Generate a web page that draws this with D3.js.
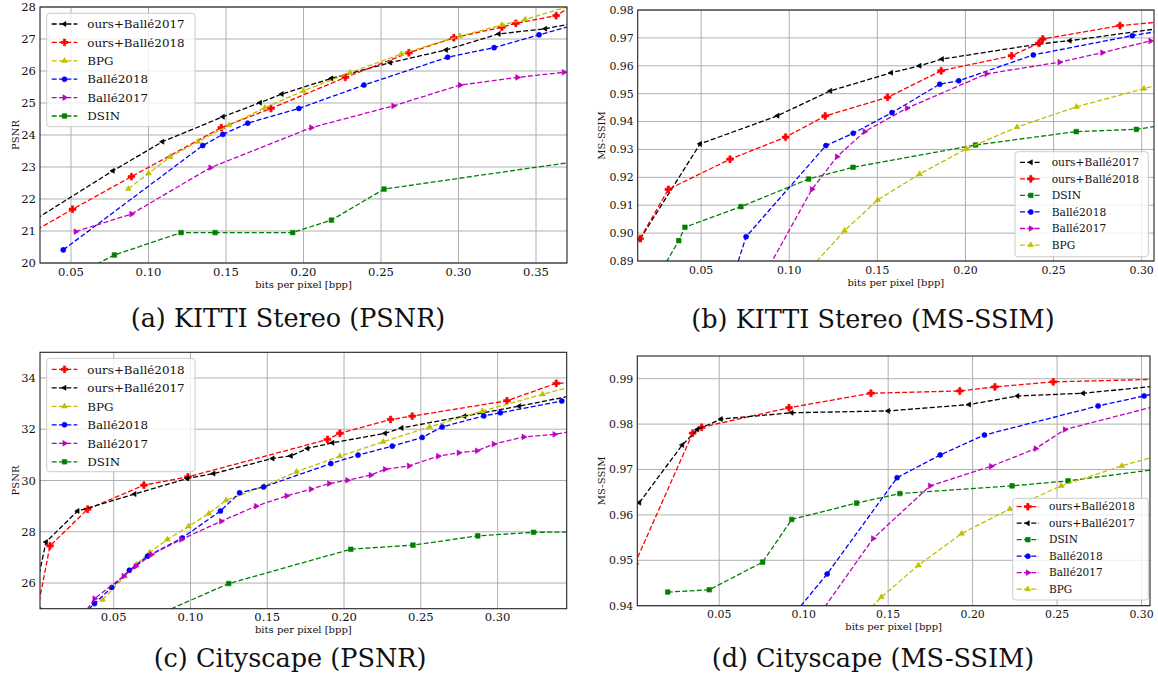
<!DOCTYPE html>
<html>
<head>
<meta charset="utf-8">
<script src="https://cdn.jsdelivr.net/npm/d3@7"></script>
<style>
  body { margin: 0; background: #fff; }
  svg { display: block; }
</style>
</head>
<body>
<div id="chart"></div>
<script>
// rate-distortion curves, [bpp, value]

// (a) KITTI Stereo, PSNR
var kittiPsnrOurs17 = [[0.020,21.15],[0.077,22.88],[0.109,23.79],[0.148,24.57],[0.172,25.01],[0.186,25.28],[0.218,25.77],[0.256,26.26],[0.292,26.66],[0.326,27.16],[0.356,27.32],[0.372,27.47]];
var kittiPsnrOurs18 = [[0.020,20.82],[0.051,21.68],[0.089,22.70],[0.147,24.23],[0.179,24.83],[0.227,25.80],[0.268,26.57],[0.297,27.04],[0.328,27.37],[0.337,27.49],[0.363,27.73],[0.372,28.00]];
var kittiPsnrBpg = [[0.087,22.32],[0.100,22.80],[0.114,23.32],[0.132,23.79],[0.152,24.31],[0.175,24.85],[0.200,25.38],[0.230,25.95],[0.263,26.53],[0.301,27.09],[0.328,27.44],[0.343,27.61],[0.372,28.03]];
var kittiPsnrBalle18 = [[0.045,20.41],[0.135,23.67],[0.148,24.02],[0.164,24.37],[0.197,24.83],[0.239,25.56],[0.293,26.43],[0.323,26.73],[0.352,27.13],[0.372,27.40]];
var kittiPsnrBalle17 = [[0.053,20.98],[0.089,21.53],[0.140,22.98],[0.205,24.23],[0.258,24.91],[0.301,25.56],[0.338,25.80],[0.368,25.96]];
var kittiPsnrDsin = [[0.050,19.55],[0.078,20.25],[0.121,20.95],[0.143,20.95],[0.193,20.95],[0.218,21.34],[0.252,22.31],[0.380,23.20]];

// (b) KITTI Stereo, MS-SSIM
var kittiSsimOurs17 = [[0.0153,0.8978],[0.0494,0.9320],[0.0934,0.9421],[0.1233,0.9510],[0.1578,0.9575],[0.1740,0.9600],[0.1867,0.9624],[0.2416,0.9678],[0.2592,0.9690],[0.315,0.9738]];
var kittiSsimOurs18 = [[0.0153,0.8980],[0.0314,0.9157],[0.0664,0.9265],[0.0979,0.9344],[0.1204,0.9420],[0.1558,0.9487],[0.1862,0.9582],[0.2262,0.9636],[0.2416,0.9681],[0.2439,0.9696],[0.2877,0.9744],[0.315,0.9760]];
var kittiSsimDsin = [[0.022,0.8806],[0.0373,0.8973],[0.0408,0.9021],[0.0726,0.9095],[0.1110,0.9194],[0.1362,0.9236],[0.2057,0.9316],[0.2629,0.9364],[0.2970,0.9372],[0.315,0.9390]];
var kittiSsimBalle18 = [[0.066,0.8800],[0.0755,0.8987],[0.1208,0.9314],[0.1363,0.9358],[0.1583,0.9432],[0.1854,0.9534],[0.1962,0.9546],[0.2385,0.9639],[0.2947,0.9708],[0.315,0.9730]];
var kittiSsimBalle17 = [[0.085,0.8840],[0.1129,0.9157],[0.1271,0.9274],[0.1428,0.9364],[0.1668,0.9448],[0.2119,0.9571],[0.2534,0.9613],[0.2777,0.9647],[0.3050,0.9689]];
var kittiSsimBpg = [[0.110,0.8860],[0.1314,0.9009],[0.1502,0.9119],[0.1740,0.9212],[0.2005,0.9302],[0.2293,0.9380],[0.2630,0.9453],[0.3013,0.9518],[0.315,0.9540]];

// (c) Cityscape, PSNR
var cityPsnrOurs18 = [[0.0005,25.00],[0.0085,27.45],[0.033,28.88],[0.0697,29.82],[0.0983,30.14],[0.1892,31.60],[0.1973,31.84],[0.2303,32.38],[0.2444,32.51],[0.3061,33.11],[0.3382,33.79],[0.352,33.82]];
var cityPsnrOurs17 = [[0.0005,26.08],[0.0059,27.60],[0.0265,28.81],[0.0636,29.47],[0.0979,30.08],[0.1150,30.27],[0.1535,30.86],[0.1654,30.96],[0.1762,31.25],[0.1925,31.47],[0.2267,31.84],[0.2375,32.05],[0.2784,32.51],[0.3141,32.90],[0.352,33.35]];
var cityPsnrBpg = [[0.0427,25.35],[0.0572,26.26],[0.0648,26.73],[0.0734,27.19],[0.0849,27.70],[0.0988,28.21],[0.1119,28.71],[0.1232,29.23],[0.1480,29.78],[0.1690,30.34],[0.1973,30.95],[0.2255,31.51],[0.2558,32.09],[0.2901,32.71],[0.3293,33.36],[0.352,33.72]];
var cityPsnrBalle18 = [[0.030,24.78],[0.0375,25.20],[0.0487,25.83],[0.0602,26.50],[0.0721,27.05],[0.0946,27.76],[0.1195,28.81],[0.1320,29.52],[0.1476,29.75],[0.1914,30.66],[0.2091,30.99],[0.2314,31.34],[0.2509,31.68],[0.2639,32.09],[0.2910,32.52],[0.3018,32.64],[0.3418,33.10]];
var cityPsnrBalle17 = [[0.030,24.75],[0.0375,25.39],[0.0565,26.27],[0.0643,26.65],[0.0745,27.11],[0.0940,27.70],[0.1200,28.41],[0.1427,29.00],[0.1626,29.40],[0.1784,29.66],[0.1903,29.88],[0.2022,30.01],[0.2174,30.21],[0.2267,30.44],[0.2423,30.57],[0.2613,30.95],[0.2747,31.08],[0.2866,31.16],[0.2975,31.42],[0.3170,31.70],[0.3371,31.80],[0.352,31.95]];
var cityPsnrDsin = [[0.070,24.54],[0.1249,25.98],[0.2044,27.32],[0.2449,27.48],[0.2871,27.84],[0.3234,27.98],[0.352,27.99]];

// (d) Cityscape, MS-SSIM
var citySsimOurs18 = [[0.0,0.9492],[0.0343,0.9780],[0.0396,0.9793],[0.0913,0.9836],[0.1398,0.9868],[0.1924,0.9873],[0.2132,0.9882],[0.2477,0.9893],[0.312,0.9899]];
var citySsimOurs17 = [[0.0027,0.9627],[0.0281,0.9754],[0.0370,0.9788],[0.0510,0.9811],[0.0929,0.9825],[0.1500,0.9829],[0.1979,0.9843],[0.2266,0.9862],[0.2654,0.9868],[0.312,0.9885]];
var citySsimDsin = [[0.0195,0.9430],[0.0441,0.9435],[0.0757,0.9496],[0.0929,0.9590],[0.1313,0.9626],[0.1569,0.9647],[0.2234,0.9664],[0.2565,0.9675],[0.312,0.9702]];
var citySsimBalle18 = [[0.090,0.9362],[0.1139,0.9470],[0.1553,0.9682],[0.1808,0.9732],[0.2070,0.9776],[0.2743,0.9840],[0.3015,0.9862],[0.312,0.9870]];
var citySsimBalle17 = [[0.105,0.9358],[0.1411,0.9548],[0.1748,0.9664],[0.2109,0.9707],[0.2373,0.9746],[0.2546,0.9788],[0.312,0.9843]];
var citySsimBpg = [[0.125,0.9340],[0.1460,0.9419],[0.1679,0.9489],[0.1935,0.9559],[0.2220,0.9613],[0.2524,0.9664],[0.2883,0.9708],[0.312,0.9733]];

// axis ticks
var psnrKittiTicks = [20, 21, 22, 23, 24, 25, 26, 27, 28];
var psnrCityTicks = [26, 28, 30, 32, 34];
var ssimKittiTicks = [0.89, 0.90, 0.91, 0.92, 0.93, 0.94, 0.95, 0.96, 0.97, 0.98];
var ssimCityTicks = [0.94, 0.95, 0.96, 0.97, 0.98, 0.99];
var bppTicksKitti = [0.05, 0.10, 0.15, 0.20, 0.25, 0.30, 0.35];
var bppTicks = [0.05, 0.10, 0.15, 0.20, 0.25, 0.30];

var captions = ['(a) KITTI Stereo (PSNR)', '(b) KITTI Stereo (MS-SSIM)', '(c) Cityscape (PSNR)', '(d) Cityscape (MS-SSIM)'];

// series look, matplotlib single-letter colours
var styles = {
  ours17:  { label: 'ours+Ballé2017', color: '#000000', marker: 'left' },
  ours18:  { label: 'ours+Ballé2018', color: '#ff0000', marker: 'plus' },
  bpg:     { label: 'BPG',            color: '#bfbf00', marker: 'up' },
  balle18: { label: 'Ballé2018',      color: '#0000ff', marker: 'circle' },
  balle17: { label: 'Ballé2017',      color: '#bf00bf', marker: 'right' },
  dsin:    { label: 'DSIN',           color: '#008000', marker: 'square' }
};

var panels = [
  {
    box: { left: 40, right: 567, top: 7, bottom: 263 },
    xDomain: [0.03, 0.37], yDomain: [20, 28],
    xTicks: bppTicksKitti, yTicks: psnrKittiTicks, yFmt: d3.format('d'),
    ylabel: 'PSNR', ylabelOff: 25, font: 11.6,
    series: [['ours17', kittiPsnrOurs17], ['ours18', kittiPsnrOurs18], ['bpg', kittiPsnrBpg],
             ['balle18', kittiPsnrBalle18], ['balle17', kittiPsnrBalle17], ['dsin', kittiPsnrDsin]],
    legend: { x: 46.7, y: 13.3, w: 148.3, h: 113.4, row0: 24, step: 18.4, l0: 51.7, l1: 77.3, tx: 87.3, font: 11.9 },
    caption: { x: 288, y: 327 }
  },
  {
    box: { left: 637.7, right: 1154, top: 10, bottom: 261 },
    xDomain: [0.014, 0.307], yDomain: [0.89, 0.98],
    xTicks: bppTicks, yTicks: ssimKittiTicks, yFmt: d3.format('.2f'),
    ylabel: 'MS-SSIM', ylabelOff: 36, font: 10.9,
    series: [['ours17', kittiSsimOurs17], ['ours18', kittiSsimOurs18], ['dsin', kittiSsimDsin],
             ['balle18', kittiSsimBalle18], ['balle17', kittiSsimBalle17], ['bpg', kittiSsimBpg]],
    legend: { x: 1015, y: 151.7, w: 133.3, h: 105, row0: 162.3, step: 16.55, l0: 1020, l1: 1041.7, tx: 1051.7, font: 10.7 },
    caption: { x: 873, y: 328 }
  },
  {
    box: { left: 40, right: 566.7, top: 352.3, bottom: 608.7 },
    xDomain: [0.002, 0.345], yDomain: [25, 35],
    xTicks: bppTicks, yTicks: psnrCityTicks, yFmt: d3.format('d'),
    ylabel: 'PSNR', ylabelOff: 25, font: 11.6,
    series: [['ours18', cityPsnrOurs18], ['ours17', cityPsnrOurs17], ['bpg', cityPsnrBpg],
             ['balle18', cityPsnrBalle18], ['balle17', cityPsnrBalle17], ['dsin', cityPsnrDsin]],
    legend: { x: 46.7, y: 358.3, w: 148.3, h: 113.4, row0: 369.3, step: 18.5, l0: 51.7, l1: 77.3, tx: 87.3, font: 11.9 },
    caption: { x: 290, y: 667 }
  },
  {
    box: { left: 637.3, right: 1150, top: 356, bottom: 605.7 },
    xDomain: [0.0015, 0.305], yDomain: [0.94, 0.995],
    xTicks: bppTicks, yTicks: ssimCityTicks, yFmt: d3.format('.2f'),
    ylabel: 'MS-SSIM', ylabelOff: 36, font: 10.9,
    series: [['ours18', citySsimOurs18], ['ours17', citySsimOurs17], ['dsin', citySsimDsin],
             ['balle18', citySsimBalle18], ['balle17', citySsimBalle17], ['bpg', citySsimBpg]],
    legend: { x: 1012.7, y: 498.3, w: 135.6, h: 101.7, row0: 506.7, step: 16.5, l0: 1016.7, l1: 1039, tx: 1049, font: 10.5 },
    caption: { x: 873, y: 667 }
  }
];

// pick an installed serif face if there is one (canvas width test)
function hasFont(name) {
  var ctx = document.createElement('canvas').getContext('2d');
  var probe = 'mmmmmmmmmmlli0123456789WQ';
  return ['monospace', 'sans-serif'].some(function (base) {
    ctx.font = '40px ' + base;
    var w0 = ctx.measureText(probe).width;
    ctx.font = '40px "' + name + '", ' + base;
    return ctx.measureText(probe).width !== w0;
  });
}
var serifFace = ['DejaVu Serif', 'Liberation Serif', 'Noto Serif', 'Times New Roman', 'Tinos', 'FreeSerif']
  .filter(hasFont)[0];

var tickFont = serifFace ? '"' + serifFace + '", serif' : '"DejaVu Sans", sans-serif';
var capFont, capSize, capSpacing;
if (serifFace === 'DejaVu Serif') { capFont = tickFont; capSize = 25.5; capSpacing = 0; }
else if (serifFace) { capFont = tickFont; capSize = 27; capSpacing = 1.5; }
else { capFont = '"Liberation Sans", sans-serif'; capSize = 27; capSpacing = 1.5; }

var width = 1158, height = 688;
var dash = '5,2.3';

var svg = d3.select('#chart').append('svg')
  .attr('width', width)
  .attr('height', height)
  .attr('viewBox', [0, 0, width, height]);

var defs = svg.append('defs');

function symbolFor(kind) {
  if (kind === 'circle') return d3.symbol(d3.symbolCircle, 20)();
  if (kind === 'square') return d3.symbol(d3.symbolSquare, 21)();
  if (kind === 'plus') return d3.symbol(d3.symbolCross, 26)();
  if (kind === 'left') return d3.symbol(d3.symbolTriangle, 11)();
  return d3.symbol(d3.symbolTriangle, 14)();
}
function rotationFor(kind) {
  if (kind === 'left') return -90;
  if (kind === 'right') return 90;
  return 0;
}

function drawMarker(g, kind, color, x, y) {
  g.append('path')
    .attr('d', symbolFor(kind))
    .attr('transform', 'translate(' + x + ',' + y + ') rotate(' + rotationFor(kind) + ')')
    .attr('fill', color)
    .attr('stroke', color)
    .attr('stroke-width', 0.6);
}

panels.forEach(function (p, i) {
  var b = p.box;
  var x = d3.scaleLinear().domain(p.xDomain).range([b.left, b.right]);
  var y = d3.scaleLinear().domain(p.yDomain).range([b.bottom, b.top]);
  var g = svg.append('g');

  var clipId = 'clip' + i;
  defs.append('clipPath').attr('id', clipId)
    .append('rect')
    .attr('x', b.left).attr('y', b.top)
    .attr('width', b.right - b.left).attr('height', b.bottom - b.top);

  // grid
  g.append('g').selectAll('line').data(p.xTicks).join('line')
    .attr('x1', function (d) { return x(d); }).attr('x2', function (d) { return x(d); })
    .attr('y1', b.top).attr('y2', b.bottom)
    .attr('stroke', '#b0b0b0').attr('stroke-width', 1);
  g.append('g').selectAll('line').data(p.yTicks).join('line')
    .attr('y1', function (d) { return y(d); }).attr('y2', function (d) { return y(d); })
    .attr('x1', b.left).attr('x2', b.right)
    .attr('stroke', '#b0b0b0').attr('stroke-width', 1);

  // tick labels
  g.append('g').selectAll('text').data(p.xTicks).join('text')
    .attr('x', function (d) { return x(d); })
    .attr('y', b.bottom + 12.6)
    .attr('text-anchor', 'middle')
    .attr('font-family', tickFont).attr('font-size', p.font).attr('fill', '#111')
    .text(d3.format('.2f'));
  g.append('g').selectAll('text').data(p.yTicks).join('text')
    .attr('x', b.left - 4)
    .attr('y', function (d) { return y(d); })
    .attr('dy', '0.36em')
    .attr('text-anchor', 'end')
    .attr('font-family', tickFont).attr('font-size', p.font).attr('fill', '#111')
    .text(p.yFmt);

  // axis labels
  g.append('text')
    .attr('x', (b.left + b.right) / 2).attr('y', b.bottom + 24.5)
    .attr('text-anchor', 'middle')
    .attr('font-family', tickFont).attr('font-size', 10).attr('fill', '#111')
    .text('bits per pixel [bpp]');
  g.append('text')
    .attr('transform', 'translate(' + (b.left - p.ylabelOff) + ',' + ((b.top + b.bottom) / 2) + ') rotate(-90)')
    .attr('text-anchor', 'middle').attr('dy', '0.35em')
    .attr('font-family', tickFont).attr('font-size', 10).attr('fill', '#111')
    .text(p.ylabel);

  // curves
  var plot = g.append('g').attr('clip-path', 'url(#' + clipId + ')');
  var line = d3.line().x(function (d) { return x(d[0]); }).y(function (d) { return y(d[1]); });
  p.series.forEach(function (s) {
    var st = styles[s[0]];
    var sg = plot.append('g');
    sg.append('path')
      .datum(s[1])
      .attr('d', line)
      .attr('fill', 'none')
      .attr('stroke', st.color)
      .attr('stroke-width', 1.3)
      .attr('stroke-dasharray', dash);
    s[1].forEach(function (d) { drawMarker(sg, st.marker, st.color, x(d[0]), y(d[1])); });
  });

  // frame
  g.append('rect')
    .attr('x', b.left).attr('y', b.top)
    .attr('width', b.right - b.left).attr('height', b.bottom - b.top)
    .attr('fill', 'none').attr('stroke', '#222').attr('stroke-width', 1.1);

  // legend
  var L = p.legend;
  var lg = g.append('g');
  lg.append('rect')
    .attr('x', L.x).attr('y', L.y).attr('width', L.w).attr('height', L.h)
    .attr('rx', 3)
    .attr('fill', '#fff').attr('fill-opacity', 0.8)
    .attr('stroke', '#cccccc').attr('stroke-width', 1);
  p.series.forEach(function (s, k) {
    var st = styles[s[0]];
    var ry = L.row0 + k * L.step;
    lg.append('line')
      .attr('x1', L.l0).attr('x2', L.l1).attr('y1', ry).attr('y2', ry)
      .attr('stroke', st.color).attr('stroke-width', 1.3)
      .attr('stroke-dasharray', dash);
    drawMarker(lg, st.marker, st.color, (L.l0 + L.l1) / 2, ry);
    lg.append('text')
      .attr('x', L.tx).attr('y', ry).attr('dy', '0.36em')
      .attr('font-family', tickFont).attr('font-size', L.font).attr('fill', '#111')
      .text(st.label);
  });

  // caption under the panel
  g.append('text')
    .attr('x', p.caption.x).attr('y', p.caption.y)
    .attr('text-anchor', 'middle')
    .attr('font-family', capFont)
    .attr('font-size', capSize)
    .attr('letter-spacing', capSpacing)
    .attr('fill', '#111')
    .text(captions[i]);
});
</script>
</body>
</html>
